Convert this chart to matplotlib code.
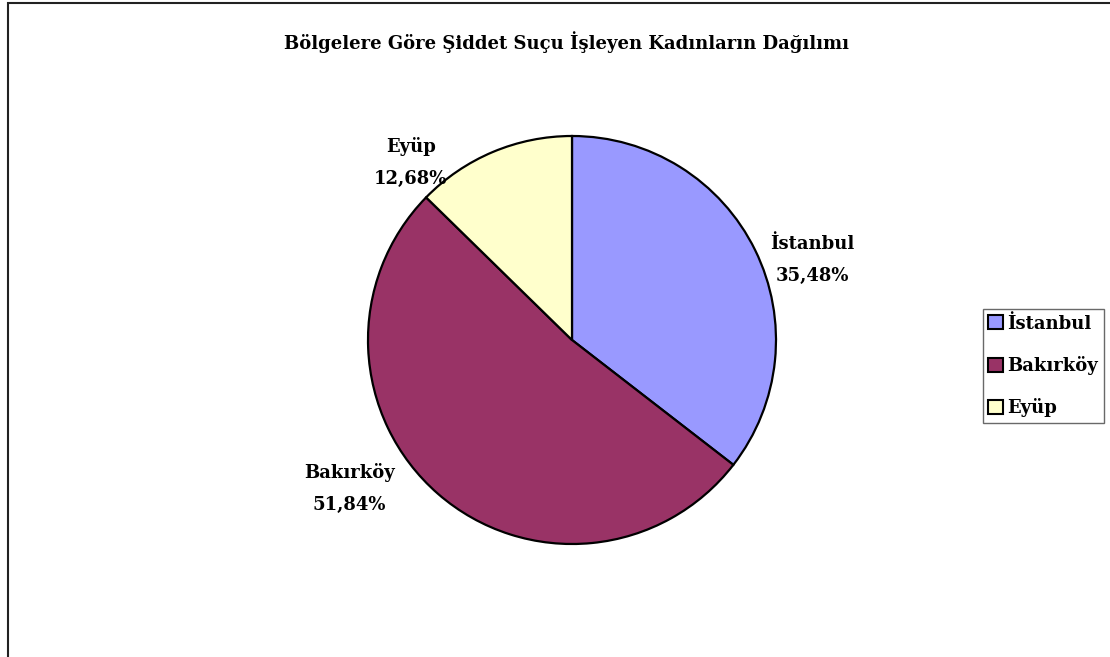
import matplotlib.pyplot as plt
from matplotlib.patches import Rectangle, Patch

plt.rcParams['font.family'] = ['DejaVu Serif']

# veriler
bolgeler = ['İstanbul', 'Bakırköy', 'Eyüp']
oranlar = [35.48, 51.84, 12.68]
renkler = ['#9999FF', '#993366', '#FFFFCC']
# etiket yerleri (pasta yarıçapı birimiyle)
etiket_yer = [(1.18, 0.39), (-1.09, -0.73), (-0.79, 0.87)]

fig = plt.figure(figsize=(11.1, 6.57), dpi=100)
W, H = 1110, 657
cx, cy, r = 572, 340, 204
half = 300
ax = fig.add_axes([(cx - half) / W, (H - cy - half) / H, 2 * half / W, 2 * half / H])

ax.pie(oranlar, colors=renkler, startangle=90, counterclock=False, radius=1,
       wedgeprops=dict(edgecolor='black', linewidth=1.6))
lim = half / r
ax.set_xlim(-lim, lim)
ax.set_ylim(-lim, lim)
ax.axis('off')

for ad, oran, (x, y) in zip(bolgeler, oranlar, etiket_yer):
    txt = '%s\n%s%%' % (ad, ('%.2f' % oran).replace('.', ','))
    ax.text(x, y, txt, ha='center', va='center', fontsize=13, fontweight='bold',
            linespacing=2.0)

fig.text(567 / W, 1 - 42 / H, 'Bölgelere Göre Şiddet Suçu İşleyen Kadınların Dağılımı',
         ha='center', va='center', fontsize=13, fontweight='bold')

# çerçeve
fig.patches.append(Rectangle((8 / W, -0.1), 1.2, (H - 3) / H + 0.1, transform=fig.transFigure,
                             fill=False, edgecolor='#222222', linewidth=1.5))

handles = [Patch(facecolor=c, edgecolor='black', linewidth=1.5) for c in renkler]
leg = fig.legend(handles, bolgeler, loc='center left',
                 bbox_to_anchor=(983 / W, 1 - 366 / H), frameon=True, fancybox=False,
                 prop=dict(size=13, weight='bold'), handlelength=0.8, handleheight=0.8,
                 handletextpad=0.25, labelspacing=1.3, borderpad=0.3, borderaxespad=0)
leg.get_frame().set_edgecolor('#444444')
leg.get_frame().set_linewidth(1.0)

fig.savefig('out.png', dpi=100)
